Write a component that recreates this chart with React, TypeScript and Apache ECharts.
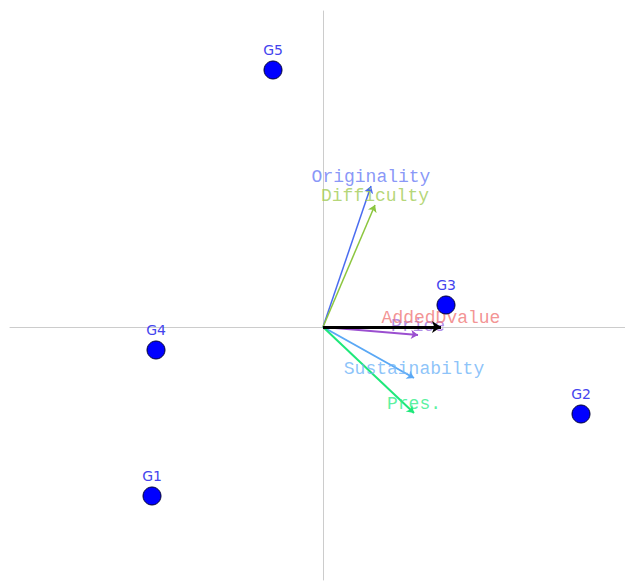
import React, { useEffect, useRef } from "react";
import * as echarts from "echarts";

const groups = ["G1", "G2", "G3", "G4", "G5"];
const groupX = [-1.71, 2.58, 1.23, -1.67, -0.5];
const groupY = [-1.69, -0.87, 0.22, -0.23, 2.57];

const vars = ["Originality", "Difficulty", "Price", "Sustainabilty", "Pres.", "AddedDvalue"];
const varX = [0.48, 0.52, 0.95, 0.91, 0.91, 1.18];
const varY = [1.41, 1.22, -0.08, -0.51, -0.86, 0.0];
const lineColors = ["#4a6cf0", "#8cc63f", "#9b4fd0", "#5aa8f5", "#1ee87a", "#000000"];
const labelColors = ["#6a7cf6", "#a2cc55", "#a070e0", "#70b4f8", "#30ee88", "#f07878"];
const lineWidths = [1.5, 1.5, 2, 2, 2, 3];

export default function App() {
  const ref = useRef<HTMLDivElement>(null);
  useEffect(() => {
    const chart = echarts.init(ref.current!, undefined, { renderer: "svg" });
    const arrowSeries: any[] = vars.map((v, i) => ({
      type: "lines",
      coordinateSystem: "cartesian2d",
      z: i === vars.length - 1 ? 5 : 3,
      symbol: ["none", "arrow"],
      symbolSize: i === vars.length - 1 ? 9 : 7,
      lineStyle: { color: lineColors[i], width: lineWidths[i], opacity: 1 },
      silent: true,
      data: [{ coords: [[0, 0], [varX[i], varY[i]]] }],
    }));
    const option: any = {
      animation: false,
      backgroundColor: "#ffffff",
      grid: { left: 10, right: 0, top: 11, bottom: 1 },
      xAxis: {
        type: "value",
        min: -3.13,
        max: 3.02,
        axisLine: { show: true, onZero: true, lineStyle: { color: "#cccccc", width: 1 } },
        axisTick: { show: false },
        axisLabel: { show: false },
        splitLine: { show: false },
      },
      yAxis: {
        type: "value",
        min: -2.53,
        max: 3.16,
        axisLine: { show: true, onZero: true, lineStyle: { color: "#cccccc", width: 1 } },
        axisTick: { show: false },
        axisLabel: { show: false },
        splitLine: { show: false },
      },
      series: [
        ...arrowSeries,
        {
          type: "scatter",
          z: 4,
          symbolSize: 0,
          silent: true,
          data: vars.map((v, i) => ({
            name: v,
            value: [varX[i], varY[i]],
            label: {
              show: true,
              position: "inside",
              offset: [0, -9],
              formatter: v,
              color: labelColors[i],
              fontFamily: "Liberation Mono",
              fontSize: 18,
            },
          })),
        },
        {
          type: "scatter",
          z: 6,
          symbol: "circle",
          symbolSize: 18,
          itemStyle: { color: "#0000ff", borderColor: "#000033", borderWidth: 1, opacity: 1 },
          label: {
            show: true,
            position: "top",
            distance: 4,
            color: "#4444ee",
            fontFamily: "DejaVu Sans",
            fontSize: 14,
            formatter: (p: any) => p.name,
          },
          data: groups.map((g, i) => ({ name: g, value: [groupX[i], groupY[i]] })),
        },
      ],
    };
    chart.setOption(option);
    return () => chart.dispose();
  }, []);
  return (
    <div
      ref={ref}
      style={{ position: "fixed", left: 0, top: 0, width: 625, height: 581 }}
    />
  );
}
